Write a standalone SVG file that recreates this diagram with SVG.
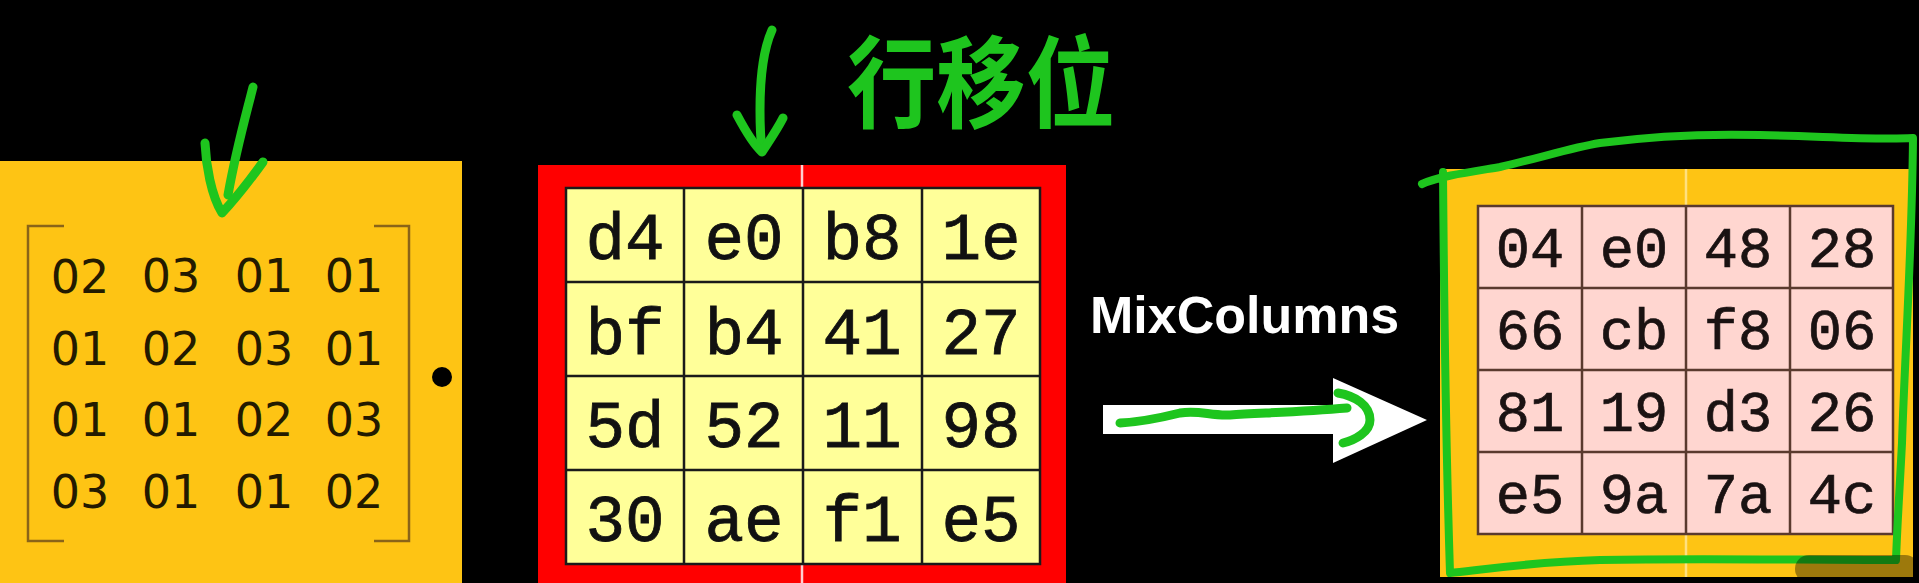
<svg xmlns="http://www.w3.org/2000/svg" width="1919" height="583" viewBox="0 0 1919 583">
  <style>
    .mat { font-family: "DejaVu Sans", "Verdana", sans-serif; font-size: 46px; fill: #231a00; text-anchor: middle; }
    .hexA { font-family: "Liberation Mono", "Courier New", monospace; font-size: 66px; fill: #111; stroke: #111; stroke-width: 0.8; text-anchor: middle; }
    .hexB { font-family: "Liberation Mono", "Courier New", monospace; font-size: 57px; fill: #1a1212; stroke: #1a1212; stroke-width: 0.7; text-anchor: middle; }
    .ink { fill: none; stroke: #1ec51e; stroke-linecap: round; stroke-linejoin: round; }
    .bracket { fill: none; stroke: #8a6418; stroke-width: 2.5; }
  </style>
  <rect x="0" y="0" width="1919" height="583" fill="#000"/>

  <!-- Left: MixColumns matrix -->
  <g id="matrix">
    <rect x="0" y="161" width="462" height="422" fill="#fec414"/>
    <path class="bracket" d="M64,226 H28 V541 H64"/>
    <path class="bracket" d="M374,226 H409 V541 H374"/>
    <text class="mat" x="80" y="293">02</text>
    <text class="mat" x="171" y="292">03</text>
    <text class="mat" x="264" y="292">01</text>
    <text class="mat" x="354" y="292">01</text>
    <text class="mat" x="80" y="365">01</text>
    <text class="mat" x="171" y="365">02</text>
    <text class="mat" x="264" y="365">03</text>
    <text class="mat" x="354" y="365">01</text>
    <text class="mat" x="80" y="436">01</text>
    <text class="mat" x="171" y="436">01</text>
    <text class="mat" x="264" y="436">02</text>
    <text class="mat" x="354" y="436">03</text>
    <text class="mat" x="80" y="508">03</text>
    <text class="mat" x="171" y="508">01</text>
    <text class="mat" x="264" y="508">01</text>
    <text class="mat" x="354" y="508">02</text>
    <circle cx="442" cy="377" r="10" fill="#000"/>
  </g>

  <!-- Middle: state after ShiftRows -->
  <g id="state-in">
    <rect x="538" y="165" width="528" height="418" fill="#ff0000"/>
    <line x1="802" y1="165" x2="802" y2="583" stroke="#ffd0d0" stroke-width="2.5"/>
    <rect x="566" y="188" width="474" height="376" fill="#ffff99" stroke="#1a1a1a" stroke-width="2.5"/>
    <g stroke="#1a1a1a" stroke-width="2.5">
      <line x1="684" y1="188" x2="684" y2="564"/>
      <line x1="803" y1="188" x2="803" y2="564"/>
      <line x1="922" y1="188" x2="922" y2="564"/>
      <line x1="566" y1="282" x2="1040" y2="282"/>
      <line x1="566" y1="376" x2="1040" y2="376"/>
      <line x1="566" y1="470" x2="1040" y2="470"/>
    </g>
    <text class="hexA" x="625" y="259">d4</text>
    <text class="hexA" x="744" y="259">e0</text>
    <text class="hexA" x="862" y="259">b8</text>
    <text class="hexA" x="981" y="259">1e</text>
    <text class="hexA" x="625" y="354">bf</text>
    <text class="hexA" x="744" y="354">b4</text>
    <text class="hexA" x="862" y="354">41</text>
    <text class="hexA" x="981" y="354">27</text>
    <text class="hexA" x="625" y="447">5d</text>
    <text class="hexA" x="744" y="447">52</text>
    <text class="hexA" x="862" y="447">11</text>
    <text class="hexA" x="981" y="447">98</text>
    <text class="hexA" x="625" y="541">30</text>
    <text class="hexA" x="744" y="541">ae</text>
    <text class="hexA" x="862" y="541">f1</text>
    <text class="hexA" x="981" y="541">e5</text>
  </g>

  <!-- Right: state after MixColumns -->
  <g id="state-out">
    <rect x="1440" y="169" width="473" height="408" fill="#fec414"/>
    <line x1="1686" y1="169" x2="1686" y2="577" stroke="#ffe080" stroke-width="2.5"/>
    <rect x="1478" y="206" width="415" height="328" fill="#ffd6d0" stroke="#5a3a2e" stroke-width="2.5"/>
    <g stroke="#5a3a2e" stroke-width="2.5">
      <line x1="1582" y1="206" x2="1582" y2="534"/>
      <line x1="1686" y1="206" x2="1686" y2="534"/>
      <line x1="1790" y1="206" x2="1790" y2="534"/>
      <line x1="1478" y1="288" x2="1893" y2="288"/>
      <line x1="1478" y1="370" x2="1893" y2="370"/>
      <line x1="1478" y1="452" x2="1893" y2="452"/>
    </g>
    <text class="hexB" x="1530" y="267">04</text>
    <text class="hexB" x="1634" y="267">e0</text>
    <text class="hexB" x="1738" y="267">48</text>
    <text class="hexB" x="1842" y="267">28</text>
    <text class="hexB" x="1530" y="349">66</text>
    <text class="hexB" x="1634" y="349">cb</text>
    <text class="hexB" x="1738" y="349">f8</text>
    <text class="hexB" x="1842" y="349">06</text>
    <text class="hexB" x="1530" y="431">81</text>
    <text class="hexB" x="1634" y="431">19</text>
    <text class="hexB" x="1738" y="431">d3</text>
    <text class="hexB" x="1842" y="431">26</text>
    <text class="hexB" x="1530" y="513">e5</text>
    <text class="hexB" x="1634" y="513">9a</text>
    <text class="hexB" x="1738" y="513">7a</text>
    <text class="hexB" x="1842" y="513">4c</text>
  </g>

  <!-- Connectors -->
  <g id="connectors">
    <g id="mixcolumns-arrow">
      <text x="1090" y="333" font-family="Liberation Sans, Arial, sans-serif" font-weight="bold" font-size="52" fill="#fff">MixColumns</text>
      <polygon points="1103,405 1333,405 1333,378 1427,420 1333,463 1333,434 1103,434" fill="#fff"/>
    </g>
  </g>

  <!-- Hand-drawn annotations -->
  <g id="annotations">
    <path class="ink" stroke-width="9" d="M253,87 C246,115 236,150 228,195"/>
    <path class="ink" stroke-width="9" d="M205,143 C206,165 211,195 222,213 C236,198 250,180 263,162"/>
    <path class="ink" stroke-width="9" d="M772,30 C763,50 760,80 760,110 C760,130 761,142 762,150"/>
    <path class="ink" stroke-width="9" d="M737,115 C745,130 754,145 762,152 C770,140 778,128 783,118"/>
    <text x="847" y="120" font-family="Noto Sans CJK SC, sans-serif" font-weight="bold" font-size="100" fill="#1ec51e" textLength="268" lengthAdjust="spacingAndGlyphs">行移位</text>
    <path class="ink" stroke-width="9" d="M1120,423 C1140,422 1160,418 1180,413 C1200,410 1210,416 1230,415 C1260,413 1300,412 1347,408"/>
    <path class="ink" stroke-width="9" d="M1338,393 C1355,396 1370,405 1370,420 C1370,432 1355,440 1343,443"/>
    <path class="ink" stroke-width="8" d="M1422,184 C1440,176 1470,172 1500,167 C1540,158 1570,148 1600,143 C1660,135 1720,134 1760,135 C1820,136 1870,140 1913,138 C1912,250 1905,350 1902,443 C1899,500 1897,530 1896,560 C1800,560 1700,558 1600,560 C1530,562 1480,570 1450,573 C1446,450 1444,300 1443,172"/>
    <rect x="1795" y="555" width="124" height="28" rx="14" fill="#000" fill-opacity="0.38"/>
  </g>
</svg>
